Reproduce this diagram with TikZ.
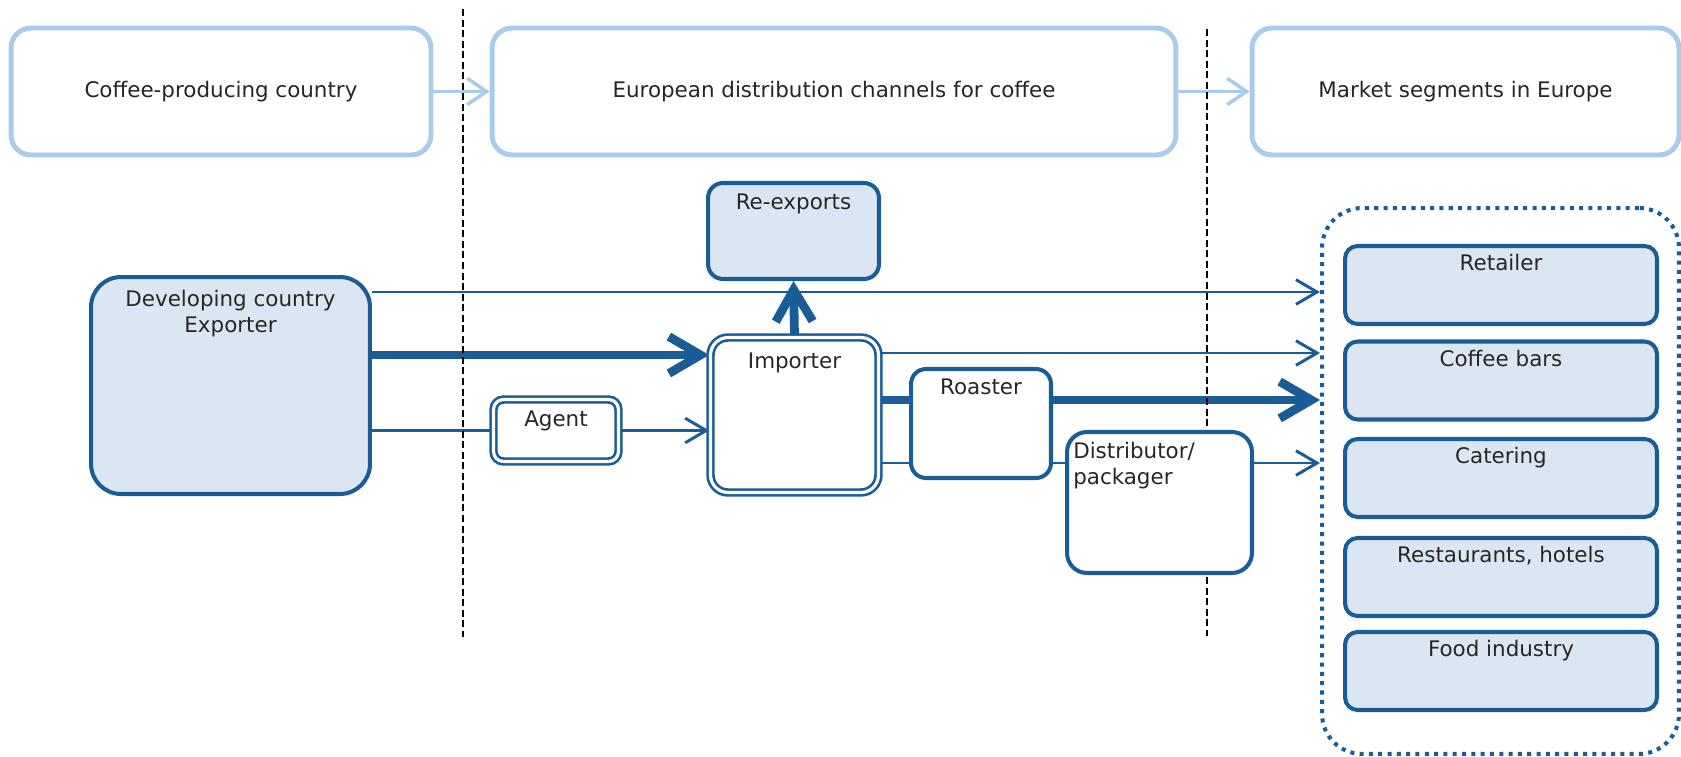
\documentclass[tikz,border=0pt]{standalone}
\usepackage{fontspec}
\setmainfont{DejaVu Sans}
\usetikzlibrary{arrows.meta, positioning, backgrounds}
\definecolor{chanblue}{HTML}{1A5D96}
\definecolor{chanfill}{HTML}{DCE6F2}
\definecolor{stageblue}{HTML}{A9CBEC}
\tikzset{
  >={Straight Barb[length=12pt,width=14pt]}, % open arrow heads
  every node/.style={font=\fontsize{12.2}{14.7}\selectfont, text=black!85}, % same text everywhere
  stagebox/.style={draw=stageblue, line width=2.8pt, rounded corners=0.4cm, fill=white, minimum height=2.54cm}, % the three headers
  stageflow/.style={stageblue, line width=2pt, -{Straight Barb[length=11pt,width=15pt]}},
  actor/.style={draw=chanblue, line width=2.3pt, fill=chanfill}, % shaded boxes
  plainbox/.style={draw=chanblue, line width=2.3pt, fill=white}, % white boxes
  dblbox/.style={draw=chanblue, double=white, line width=1.5pt, double distance=1.8pt, fill=white}, % boxes with a double border
  toptext/.style={anchor=north, inner sep=0pt}, % text at the top of a box
  flow/.style={chanblue, line width=1.7pt},
  bigflow/.style={chanblue, line width=5pt},
  bighead/.style={-{Straight Barb[length=18pt,width=21pt]}},
  divider/.style={black, line width=1.2pt, dash pattern=on 4pt off 2pt},
}

\begin{document}
\begin{tikzpicture}[x=0.02cm, y=-0.02cm]
  \useasboundingbox (0,0) rectangle (1681,757);

  % dividers between the stages
  \draw[divider] (463,9) -- (463,637);
  \draw[divider] (1207,29) -- (1207,636);

  % stage headers
  \node[stagebox, minimum width=8.4cm] (prod) at (221,91.5) {Coffee-producing country};
  \node[stagebox, minimum width=13.68cm] (chan) at (834,91.5) {European distribution channels for coffee};
  \node[stagebox, minimum width=8.54cm] (mkt) at (1465.5,91.5) {Market segments in Europe};

  % actors
  \node[actor, rounded corners=0.6cm, minimum width=5.58cm, minimum height=4.34cm,
    label={[toptext, align=center, yshift=-8.5pt]north:Developing country\\Exporter}] (exp) at (230.5,385.5) {};
  \node[actor, rounded corners=0.3cm, minimum width=3.42cm, minimum height=1.92cm,
    label={[toptext, yshift=-7pt]north:Re-exports}] (reexp) at (793.5,231) {};
  \node[dblbox, rounded corners=0.35cm, minimum width=3.36cm, minimum height=3.1cm,
    label={[toptext, yshift=-9.5pt]north:Importer}] (imp) at (794.5,415) {};
  \node[dblbox, rounded corners=0.2cm, minimum width=2.5cm, minimum height=1.24cm,
    label={[toptext, yshift=-7.3pt]north:Agent}] (agent) at (556,430.5) {};
  \node[plainbox, rounded corners=0.3cm, minimum width=2.8cm, minimum height=2.18cm,
    label={[toptext, yshift=-6.4pt]north:Roaster}] (roast) at (981,423.5) {};
  \node[plainbox, rounded corners=0.4cm, minimum width=3.7cm, minimum height=2.82cm,
    label={[toptext, anchor=north west, align=left, xshift=4.5pt, yshift=-7pt]north west:Distributor/\\packager}] (dist) at (1159.5,502.5) {};

  % market segments
  \node[draw=chanblue, line width=2.3pt, dash pattern=on 2.3pt off 3pt, rounded corners=0.8cm,
    minimum width=7.14cm, minimum height=10.92cm] (segs) at (1500.5,481) {};
  \node[actor, rounded corners=0.25cm, minimum width=6.24cm, minimum height=1.56cm,
    label={[toptext, yshift=-5.9pt]north:Retailer}] (retail) at (1501,285) {};
  \node[actor, rounded corners=0.25cm, minimum width=6.24cm, minimum height=1.56cm,
    label={[toptext, yshift=-5.9pt]north:Coffee bars}] (bars) at (1501,380.5) {};
  \node[actor, rounded corners=0.25cm, minimum width=6.24cm, minimum height=1.56cm,
    label={[toptext, yshift=-5.9pt]north:Catering}] (cater) at (1501,478) {};
  \node[actor, rounded corners=0.25cm, minimum width=6.24cm, minimum height=1.56cm,
    label={[toptext, yshift=-5.9pt]north:{Restaurants, hotels}}] (resto) at (1501,577) {};
  \node[actor, rounded corners=0.25cm, minimum width=6.24cm, minimum height=1.56cm,
    label={[toptext, yshift=-5.9pt]north:Food industry}] (food) at (1501,671) {};

  % flows, behind the boxes and the dividers
  \begin{pgfonlayer}{background}
    \draw[stageflow] (prod) -- (chan);
    \draw[stageflow] (chan) -- (mkt);
    \draw[flow, ->] (exp.east |- 0,292) -- (segs.west |- 0,292);
    \draw[bigflow, bighead] (exp.east |- 0,355) -- (imp.west |- 0,355);
    \draw[flow] (exp.east |- agent.west) -- (agent.west);
    \draw[flow, ->] (agent.east) -- (imp.west |- agent.east);
    \draw[bigflow, bighead] (imp.north) -- (reexp.south);
    \draw[flow, ->] (imp.east |- 0,353) -- (segs.west |- 0,353);
    \draw[bigflow] (imp.east |- 0,400) -- (roast.west |- 0,400);
    \draw[bigflow, bighead] (roast.east |- 0,400) -- (segs.west |- 0,400);
    \draw[flow] (imp.east |- 0,463) -- (dist.west |- 0,463);
    \draw[flow, ->] (dist.east |- 0,463) -- (segs.west |- 0,463);
  \end{pgfonlayer}
\end{tikzpicture}
\end{document}
